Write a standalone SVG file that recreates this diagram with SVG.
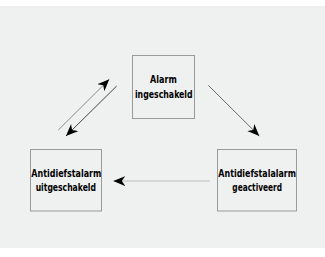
<svg xmlns="http://www.w3.org/2000/svg" width="325" height="257" viewBox="0 0 325 257">
<style>
.node rect{fill:none;stroke:#9a9a9a;stroke-width:1}
.node text{font-family:"DejaVu Sans Condensed","DejaVu Sans",sans-serif;font-weight:bold;font-size:10px;fill:#000;text-anchor:middle}
.edge{fill:none;stroke-width:1}
</style>
<defs>
<marker id="ah" markerUnits="userSpaceOnUse" markerWidth="14" markerHeight="12" viewBox="-12 -6 14 12" refX="0" refY="0" orient="auto">
<path d="M0,0 L-12,-5 L-8.5,0 L-12,5 Z" fill="#000"/>
</marker>
</defs>
<rect x="0" y="6" width="325" height="242" fill="#eff0f0"/>
<g id="connectors">
<line class="edge" x1="58.3" y1="130" x2="109.3" y2="79.3" stroke="#8a8a8a" marker-end="url(#ah)"/>
<line class="edge" x1="116.7" y1="86" x2="66" y2="136" stroke="#444" marker-end="url(#ah)"/>
<line class="edge" x1="208.3" y1="85.3" x2="259.3" y2="136" stroke="#6a6a6a" marker-end="url(#ah)"/>
<line class="edge" x1="209.7" y1="181" x2="113.3" y2="181" stroke="#bdbdbd" stroke-width="1.3" marker-end="url(#ah)"/>
</g>
<g id="alarm" class="node">
<rect x="132.5" y="55.5" width="62" height="63"/>
<text x="163.4" y="83.3" textLength="26.7" lengthAdjust="spacingAndGlyphs">Alarm</text>
<text x="163.8" y="97.7" textLength="57.7" lengthAdjust="spacingAndGlyphs">ingeschakeld</text>
</g>
<g id="uit" class="node">
<rect x="30.5" y="149.5" width="71" height="61.5"/>
<text x="66.3" y="176.7" textLength="70" lengthAdjust="spacingAndGlyphs">Antidiefstalarm</text>
<text x="65.8" y="191" textLength="60.3" lengthAdjust="spacingAndGlyphs">uitgeschakeld</text>
</g>
<g id="geact" class="node">
<rect x="217.5" y="149.5" width="79" height="61.5"/>
<text x="257.2" y="176.7" textLength="77.7" lengthAdjust="spacingAndGlyphs">Antidiefstalalarm</text>
<text x="257.2" y="191" textLength="49.7" lengthAdjust="spacingAndGlyphs">geactiveerd</text>
</g>
</svg>
